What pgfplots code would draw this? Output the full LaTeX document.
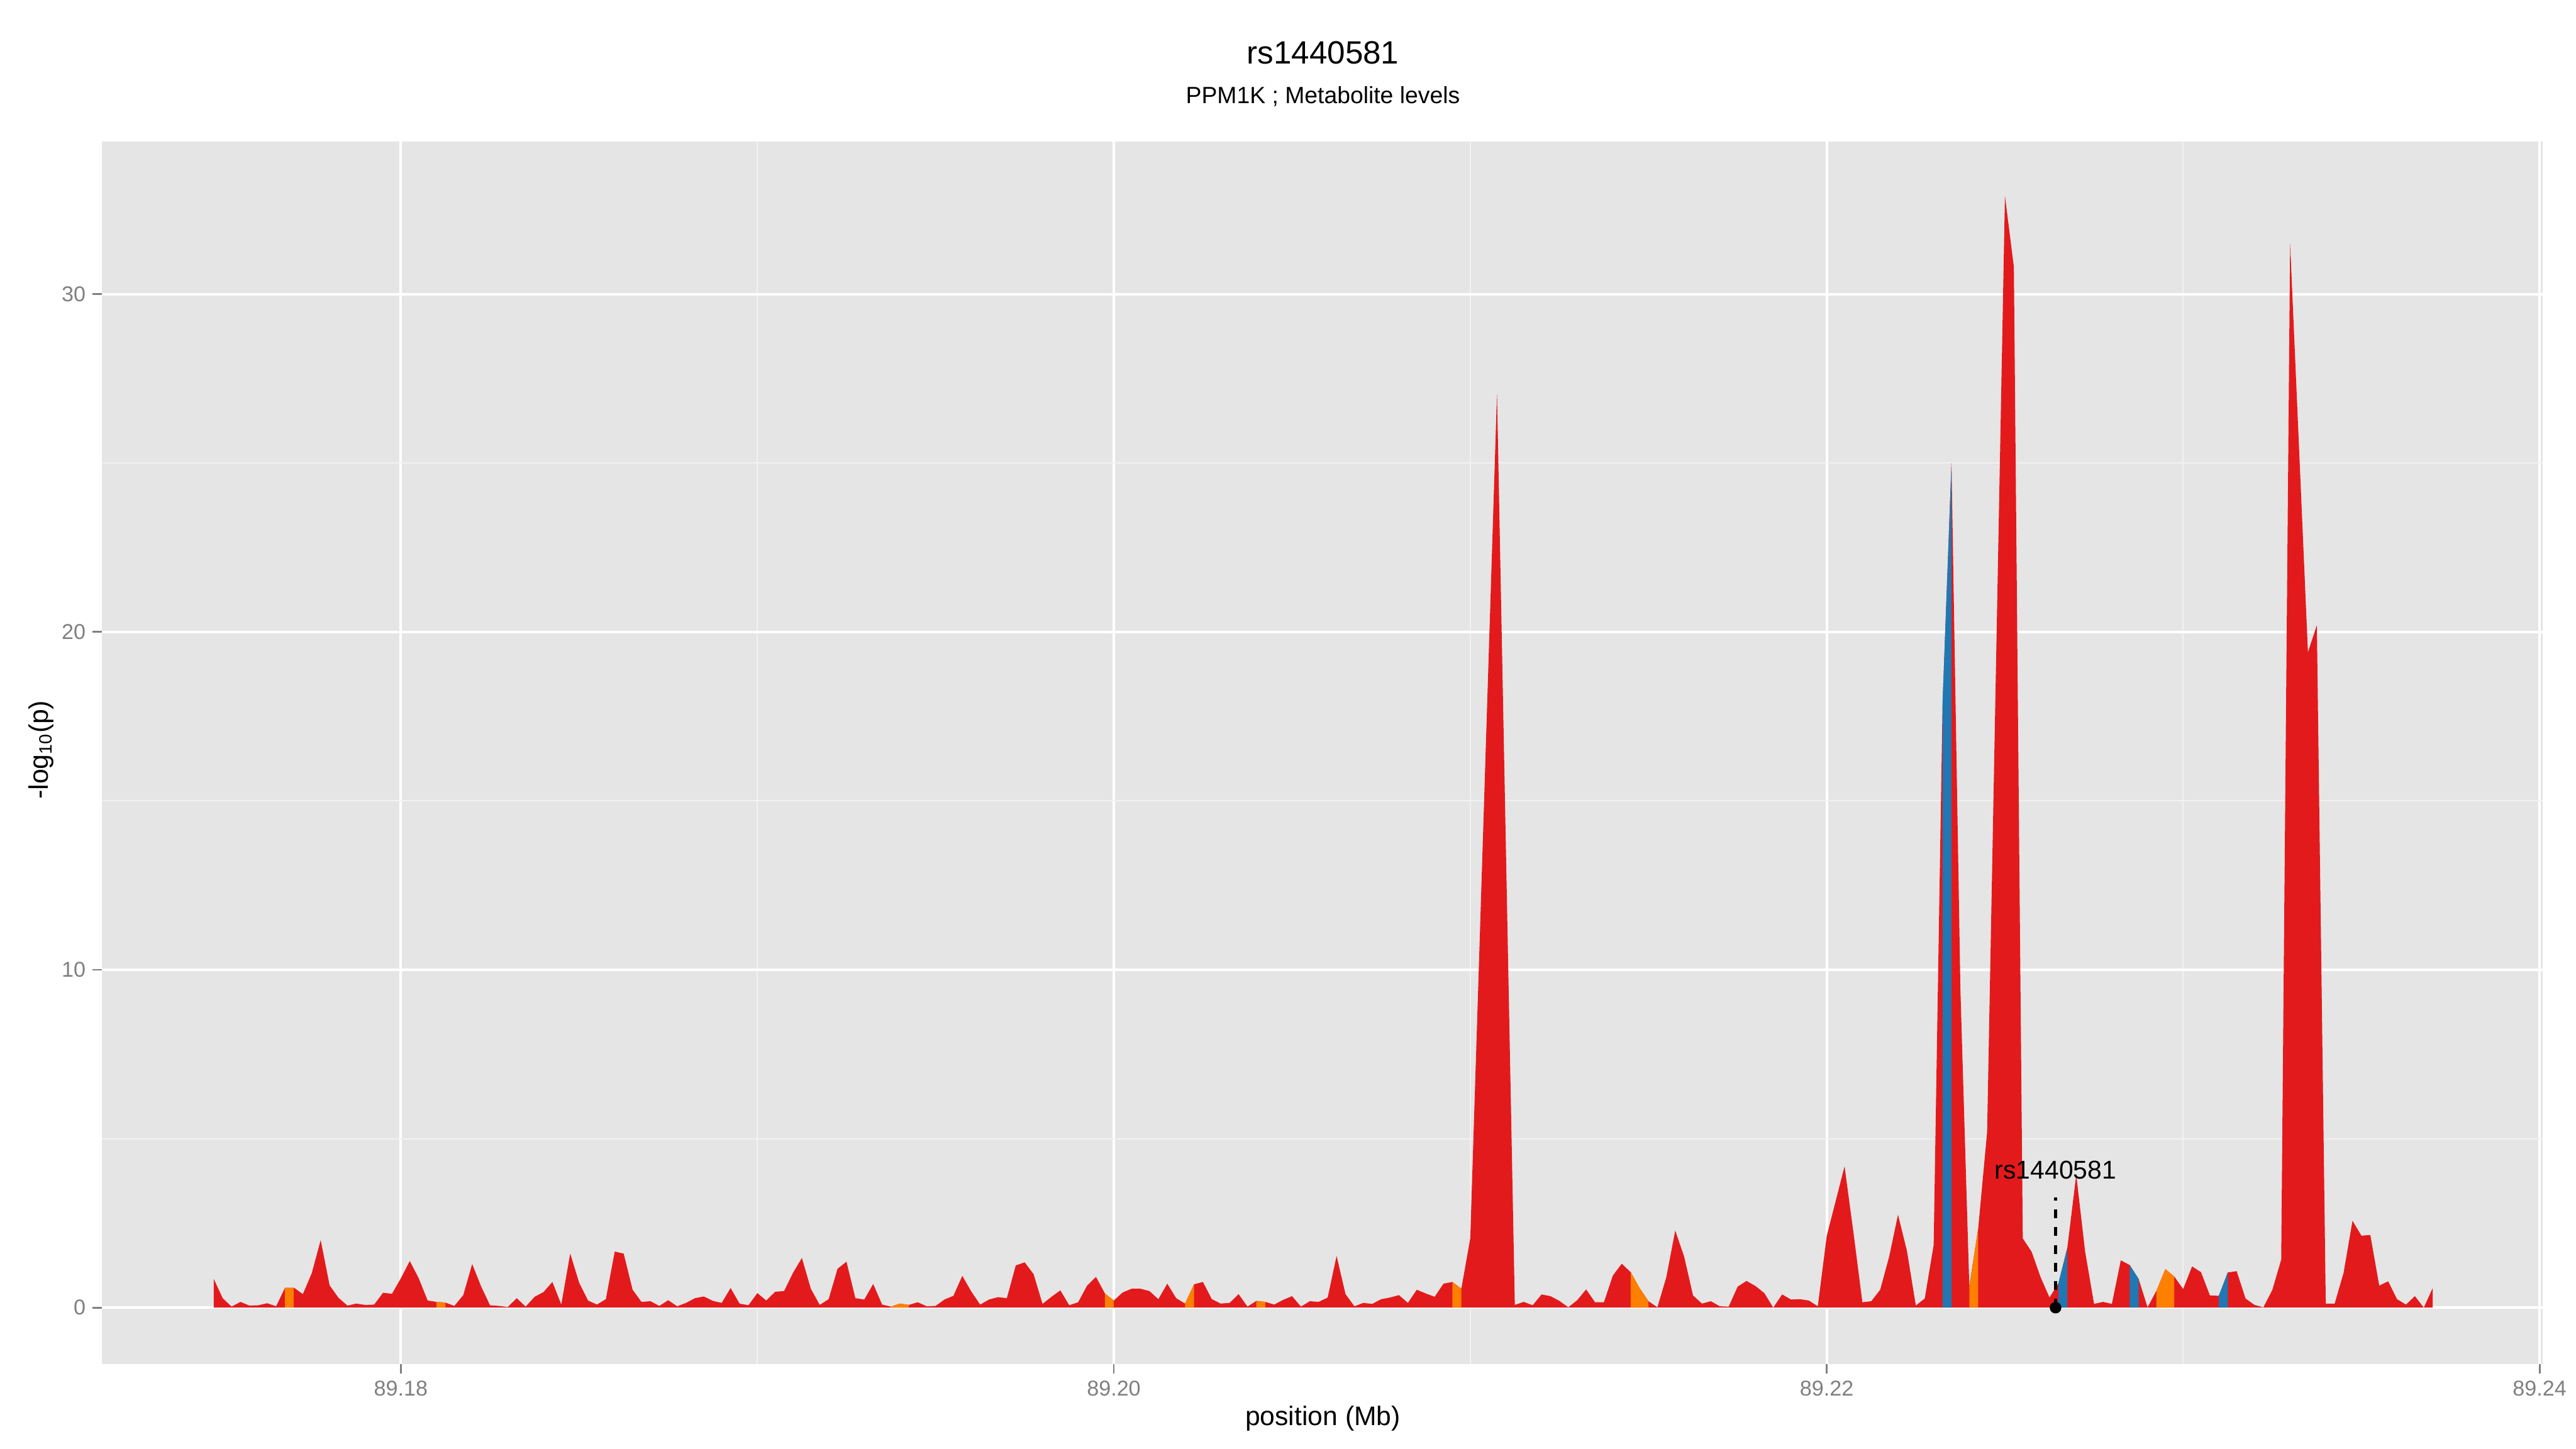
\documentclass[border=0pt]{standalone}
\usepackage{fontspec}
\setmainfont{Liberation Sans}
\usepackage{pgfplots}
\pgfplotsset{compat=1.18}
\definecolor{pRed}{HTML}{E31A1C}
\definecolor{pOrange}{HTML}{FF7F00}
\definecolor{pBlue}{HTML}{1F78B4}
\definecolor{panelbg}{HTML}{E5E5E5}
\definecolor{grey95}{HTML}{F2F2F2}
\definecolor{grey50}{HTML}{7F7F7F}
\begin{document}
\begin{tikzpicture}
\useasboundingbox (0,0) rectangle (1152pt,648pt);
% x positions are given in kb from 89.170 Mb (89.18 Mb = 10 kb)
\begin{axis}[
  at={(45.6pt,37.92pt)}, anchor=south west,
  scale only axis, width=1091.52pt, height=546.72pt,
  xmin=1.614, xmax=70.09, ymin=-1.674, ymax=34.51,
  axis background/.style={fill=panelbg},
  axis line style={draw=none},
  xtick={10,30,50,70}, xticklabels={89.18,89.20,89.22,89.24},
  ytick={0,10,20,30}, yticklabels={0,10,20,30},
  minor xtick={20,40,60}, minor ytick={5,15,25},
  grid=both,
  major grid style={white, line width=1.1pt},
  minor grid style={grey95, line width=0.6pt},
  tick align=outside, xtick pos=left, ytick pos=left,
  major tick length=4.25pt, minor tick length=0pt,
  tick style={grey50, line width=0.8pt},
  tick label style={font=\fontsize{9.6}{11}\selectfont, text=grey50, inner sep=0pt},
  xticklabel style={yshift=-2.9pt},
  yticklabel style={xshift=-2.85pt},
]
\addplot[fill=pRed, draw=none] coordinates {
(4.75,0)
(4.75,0.85)(5.00,0.28)(5.25,0.03)(5.50,0.17)(5.75,0.06)(6.00,0.07)(6.25,0.13)(6.50,0.04)
(6.75,0.59)(7.00,0.59)(7.25,0.40)(7.50,1.02)(7.75,2.00)(8.00,0.66)(8.25,0.29)(8.50,0.06)
(8.75,0.12)(9.00,0.08)(9.25,0.09)(9.50,0.44)(9.75,0.41)(10.00,0.87)(10.25,1.38)(10.50,0.87)
(10.75,0.21)(11.00,0.17)(11.25,0.15)(11.50,0.05)(11.75,0.37)(12.00,1.29)(12.25,0.63)(12.50,0.07)
(12.75,0.05)(13.00,0.02)(13.25,0.28)(13.50,0.03)(13.75,0.32)(14.00,0.46)(14.25,0.76)(14.50,0.09)
(14.75,1.60)(15.00,0.74)(15.25,0.21)(15.50,0.09)(15.75,0.25)(16.00,1.66)(16.25,1.60)(16.50,0.53)
(16.75,0.17)(17.00,0.19)(17.25,0.05)(17.50,0.22)(17.75,0.04)(18.00,0.14)(18.25,0.28)(18.50,0.33)
(18.75,0.20)(19.00,0.14)(19.25,0.58)(19.50,0.12)(19.75,0.07)(20.00,0.43)(20.25,0.21)(20.50,0.47)
(20.75,0.49)(21.00,1.03)(21.25,1.47)(21.50,0.56)(21.75,0.08)(22.00,0.25)(22.25,1.15)(22.50,1.36)
(22.75,0.28)(23.00,0.24)(23.25,0.70)(23.50,0.09)(23.75,0.03)(24.00,0.12)(24.25,0.08)(24.50,0.16)
(24.75,0.04)(25.00,0.05)(25.25,0.24)(25.50,0.35)(25.75,0.94)(26.00,0.48)(26.25,0.09)(26.50,0.24)
(26.75,0.31)(27.00,0.28)(27.25,1.25)(27.50,1.34)(27.75,0.99)(28.00,0.11)(28.25,0.32)(28.50,0.51)
(28.75,0.07)(29.00,0.16)(29.25,0.65)(29.50,0.91)(29.75,0.42)(30.00,0.21)(30.25,0.45)(30.50,0.56)
(30.75,0.56)(31.00,0.49)(31.25,0.25)(31.50,0.71)(31.75,0.28)(32.00,0.12)(32.25,0.69)(32.50,0.76)
(32.75,0.25)(33.00,0.12)(33.25,0.14)(33.50,0.40)(33.75,0.03)(34.00,0.20)(34.25,0.17)(34.50,0.09)
(34.75,0.23)(35.00,0.34)(35.25,0.03)(35.50,0.19)(35.75,0.17)(36.00,0.30)(36.25,1.53)(36.50,0.40)
(36.75,0.04)(37.00,0.14)(37.25,0.11)(37.50,0.25)(37.75,0.30)(38.00,0.37)(38.25,0.14)(38.50,0.53)
(38.75,0.42)(39.00,0.32)(39.25,0.71)(39.50,0.76)(39.75,0.56)(40.00,2.05)(40.75,27.06)(41.25,0.08)
(41.50,0.17)(41.75,0.07)(42.00,0.39)(42.25,0.34)(42.50,0.20)(42.75,0.01)(43.00,0.22)(43.25,0.54)
(43.50,0.16)(43.75,0.16)(44.00,0.95)(44.25,1.30)(44.50,1.05)(44.75,0.58)(45.00,0.19)(45.25,0.01)
(45.50,0.90)(45.75,2.28)(46.00,1.51)(46.25,0.36)(46.50,0.12)(46.75,0.19)(47.00,0.04)(47.25,0.03)
(47.50,0.62)(47.75,0.79)(48.00,0.64)(48.25,0.43)(48.50,0.00)(48.75,0.39)(49.00,0.24)(49.25,0.25)
(49.50,0.21)(49.75,0.04)(50.00,2.12)(50.50,4.18)(50.75,2.22)(51.00,0.16)(51.25,0.19)(51.50,0.53)
(51.75,1.50)(52.00,2.75)(52.25,1.68)(52.50,0.06)(52.75,0.27)(53.00,1.85)(53.25,17.90)(53.50,25.00)
(53.75,9.42)(54.00,0.63)(54.25,2.35)(54.50,5.20)(55.00,32.90)(55.25,30.80)(55.50,2.05)(55.75,1.65)
(56.00,0.90)(56.25,0.30)(56.50,0.72)(56.75,1.77)(57.00,3.93)(57.25,1.65)(57.50,0.11)(57.75,0.17)
(58.00,0.11)(58.25,1.40)(58.50,1.26)(58.75,0.85)(59.00,0.01)(59.25,0.50)(59.50,1.14)(59.75,0.92)
(60.00,0.55)(60.25,1.22)(60.50,1.05)(60.75,0.36)(61.00,0.35)(61.25,1.04)(61.50,1.08)(61.75,0.27)
(62.00,0.08)(62.25,0.01)(62.50,0.52)(62.75,1.42)(63.00,31.50)(63.50,19.40)(63.75,20.20)(64.00,0.12)
(64.25,0.12)(64.50,1.03)(64.75,2.57)(65.00,2.13)(65.25,2.15)(65.50,0.65)(65.75,0.78)(66.00,0.25)
(66.25,0.09)(66.50,0.34)(66.75,0.00)(67.00,0.58)
(67.00,0)
} -- cycle;
% orange segments
\addplot[fill=pOrange, draw=none] coordinates {(6.75,0)(6.75,0.59)(7.00,0.59)(7.00,0)} -- cycle;
\addplot[fill=pOrange, draw=none] coordinates {(11.00,0)(11.00,0.17)(11.25,0.15)(11.25,0)} -- cycle;
\addplot[fill=pOrange, draw=none] coordinates {(23.75,0)(23.75,0.03)(24.00,0.12)(24.25,0.08)(24.25,0)} -- cycle;
\addplot[fill=pOrange, draw=none] coordinates {(29.75,0)(29.75,0.42)(30.00,0.21)(30.00,0)} -- cycle;
\addplot[fill=pOrange, draw=none] coordinates {(32.00,0)(32.00,0.12)(32.25,0.69)(32.25,0)} -- cycle;
\addplot[fill=pOrange, draw=none] coordinates {(34.00,0)(34.00,0.20)(34.25,0.17)(34.25,0)} -- cycle;
\addplot[fill=pOrange, draw=none] coordinates {(39.50,0)(39.50,0.76)(39.75,0.56)(39.75,0)} -- cycle;
\addplot[fill=pOrange, draw=none] coordinates {(44.50,0)(44.50,1.05)(44.75,0.58)(45.00,0.19)(45.00,0)} -- cycle;
\addplot[fill=pOrange, draw=none] coordinates {(54.00,0)(54.00,0.63)(54.25,2.35)(54.25,0)} -- cycle;
\addplot[fill=pOrange, draw=none] coordinates {(59.25,0)(59.25,0.50)(59.50,1.14)(59.75,0.92)(59.75,0)} -- cycle;
% blue segments
\addplot[fill=pBlue, draw=none] coordinates {(53.25,0)(53.25,17.90)(53.50,25.00)(53.50,0)} -- cycle;
\addplot[fill=pBlue, draw=none] coordinates {(56.50,0)(56.50,0.72)(56.75,1.77)(56.75,0)} -- cycle;
\addplot[fill=pBlue, draw=none] coordinates {(58.50,0)(58.50,1.26)(58.75,0.85)(58.75,0)} -- cycle;
\addplot[fill=pBlue, draw=none] coordinates {(61.00,0)(61.00,0.35)(61.25,1.04)(61.25,0)} -- cycle;
% index SNP
\addplot[black, line width=1.2pt, dash pattern=on 4pt off 4pt] coordinates {(56.42,0)(56.42,3.26)};
\addplot[only marks, mark=*, mark size=2.4pt, black] coordinates {(56.42,0)};
\node[anchor=base, inner sep=0pt, font=\fontsize{11.5}{13}\selectfont] at (axis cs:56.42,3.81) {rs1440581};
\end{axis}
\node[anchor=base, font=\fontsize{14.4}{17}\selectfont] at (591.6pt,619.4pt) {rs1440581};
\node[anchor=base, font=\fontsize{10.5}{12}\selectfont] at (591.6pt,601.7pt) {PPM1K ; Metabolite levels};
\node[anchor=base, font=\fontsize{12}{14}\selectfont] at (591.6pt,10.6pt) {position (Mb)};
\node[rotate=90, font=\fontsize{12}{14}\selectfont] at (18.4pt,312.7pt) {-log\textsubscript{10}(p)};
\end{tikzpicture}
\end{document}
